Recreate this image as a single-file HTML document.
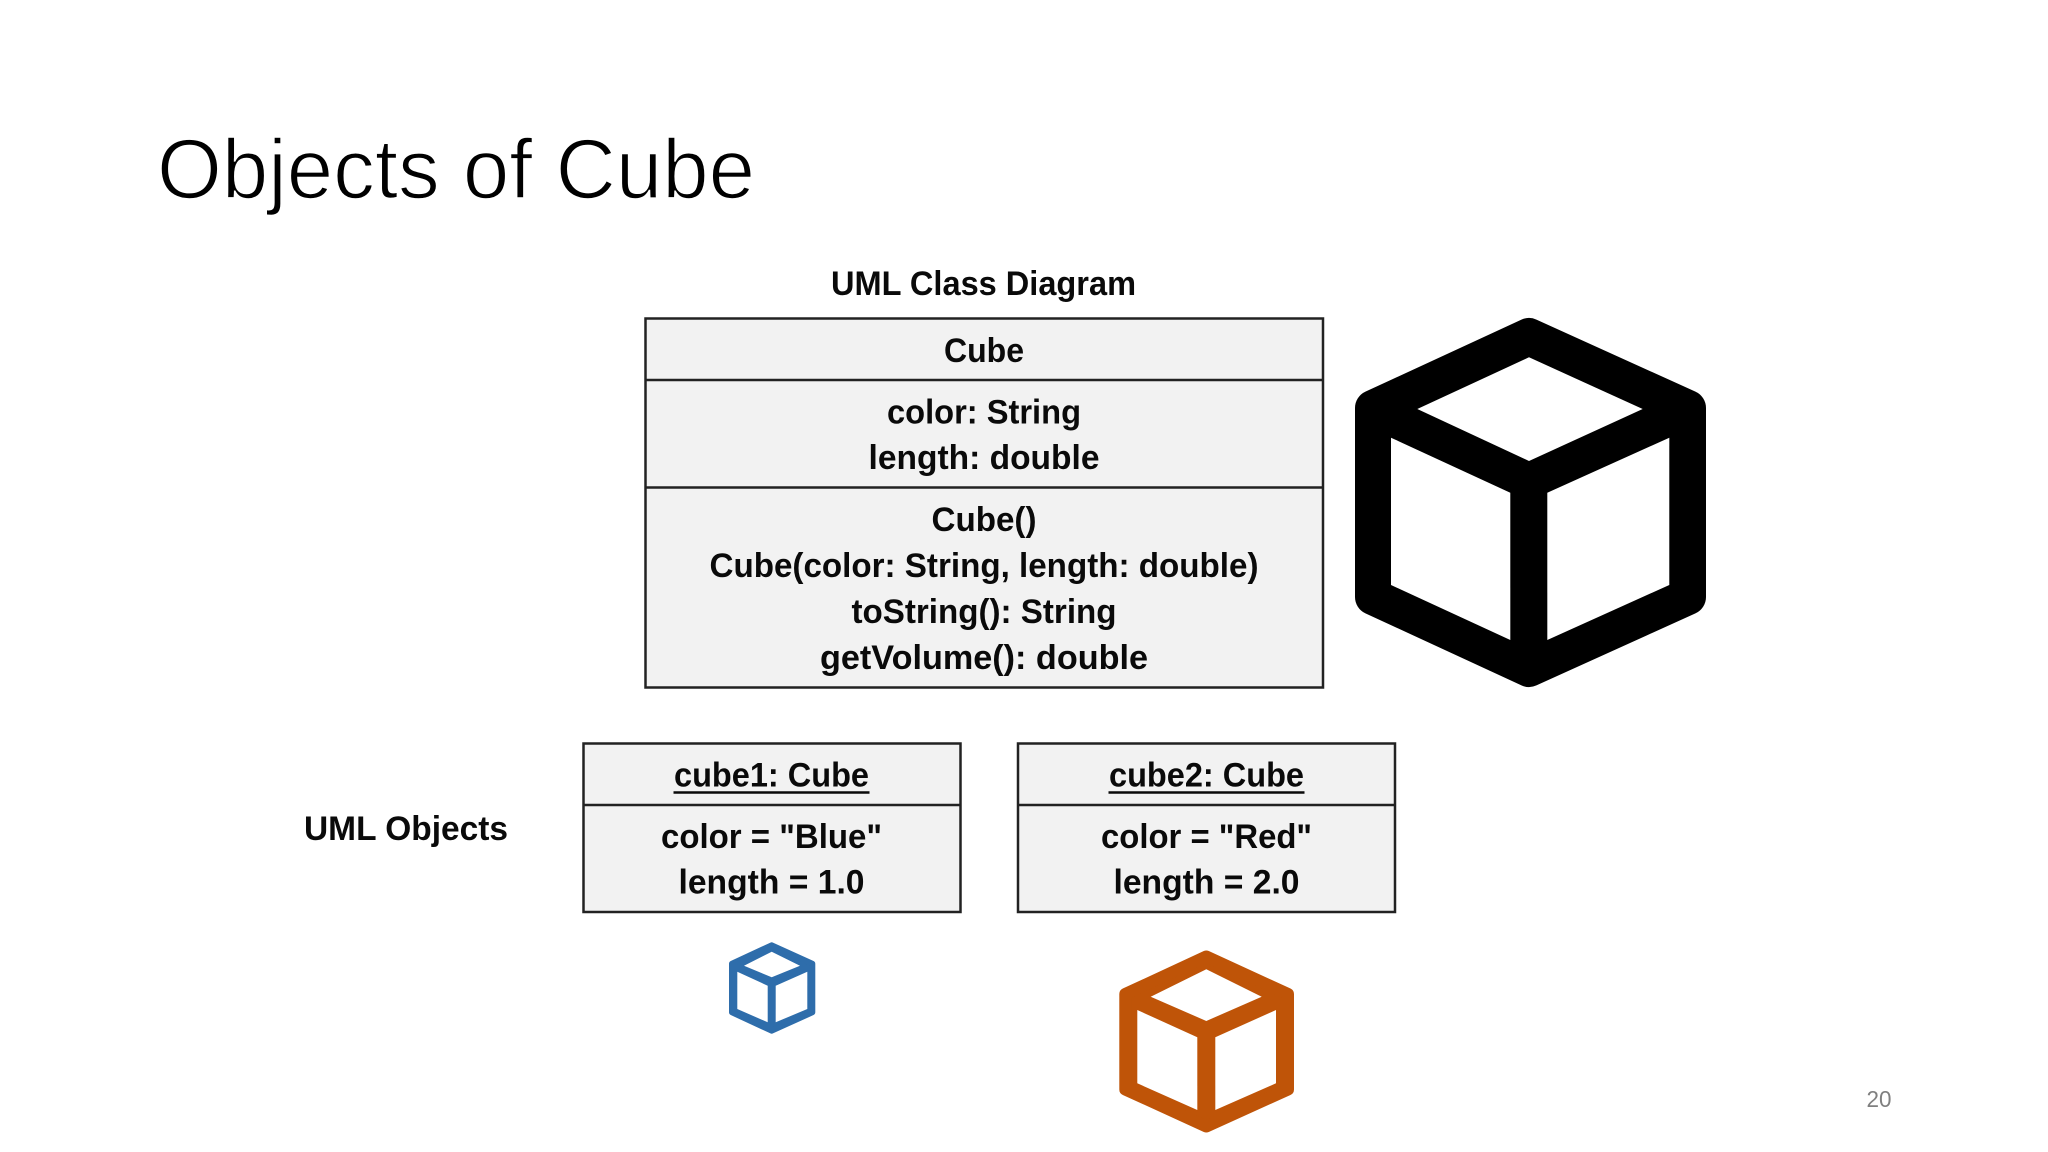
<!DOCTYPE html>
<html lang="en">
<head>
<meta charset="utf-8">
<title>Objects of Cube</title>
<style>
html,body{margin:0;padding:0;background:#fff;width:2048px;height:1152px;overflow:hidden}
svg{display:block}
text{font-family:"Liberation Sans",sans-serif}
.b{font-weight:700;font-size:34px;fill:#0a0a0a;text-anchor:middle}
</style>
</head>
<body>
<svg width="2048" height="1152" viewBox="0 0 2048 1152" xmlns="http://www.w3.org/2000/svg">
<rect width="2048" height="1152" fill="#fff"/>

<text x="157" y="198" font-size="84" fill="#000" stroke="#fff" stroke-width="1.6" textLength="598" lengthAdjust="spacingAndGlyphs">Objects of Cube</text>

<text class="b" x="983.500" y="295" textLength="305" lengthAdjust="spacingAndGlyphs">UML Class Diagram</text>

<g fill="#f2f2f2" stroke="#222" stroke-width="2.5">
<rect x="645.500" y="318.500" width="677.500" height="369"/>
<rect x="583.500" y="743.500" width="377" height="168.500"/>
<rect x="1018" y="743.500" width="377" height="168.500"/>
</g>
<g stroke="#222" stroke-width="2.5">
<line x1="645.500" y1="380" x2="1323" y2="380"/>
<line x1="645.500" y1="487.500" x2="1323" y2="487.500"/>
<line x1="583.500" y1="805" x2="960.500" y2="805"/>
<line x1="1018" y1="805" x2="1395" y2="805"/>
</g>

<text class="b" x="984" y="362" textLength="80" lengthAdjust="spacingAndGlyphs">Cube</text>
<text class="b" x="984" y="423.500" textLength="194" lengthAdjust="spacingAndGlyphs">color: String</text>
<text class="b" x="984" y="469" textLength="231" lengthAdjust="spacingAndGlyphs">length: double</text>
<text class="b" x="984" y="531" textLength="105" lengthAdjust="spacingAndGlyphs">Cube()</text>
<text class="b" x="984" y="577" textLength="549" lengthAdjust="spacingAndGlyphs">Cube(color: String, length: double)</text>
<text class="b" x="984" y="623" textLength="265" lengthAdjust="spacingAndGlyphs">toString(): String</text>
<text class="b" x="984" y="669" textLength="328" lengthAdjust="spacingAndGlyphs">getVolume(): double</text>

<text class="b" x="406" y="840" textLength="204" lengthAdjust="spacingAndGlyphs">UML Objects</text>

<text class="b" x="771.500" y="786.500" textLength="195" lengthAdjust="spacingAndGlyphs">cube1: Cube</text>
<line x1="673.500" y1="792.500" x2="869.500" y2="792.500" stroke="#0a0a0a" stroke-width="2.5"/>
<text class="b" x="771.500" y="848" textLength="221" lengthAdjust="spacingAndGlyphs">color = "Blue"</text>
<text class="b" x="771.500" y="893.500" textLength="186" lengthAdjust="spacingAndGlyphs">length = 1.0</text>

<text class="b" x="1206.500" y="786.500" textLength="195" lengthAdjust="spacingAndGlyphs">cube2: Cube</text>
<line x1="1108.500" y1="792.500" x2="1304.500" y2="792.500" stroke="#0a0a0a" stroke-width="2.5"/>
<text class="b" x="1206.500" y="848" textLength="211" lengthAdjust="spacingAndGlyphs">color = "Red"</text>
<text class="b" x="1206.500" y="893.500" textLength="186" lengthAdjust="spacingAndGlyphs">length = 2.0</text>

<!-- big black cube -->
<polygon points="1529,336 1688,408 1688,597 1529,669 1373,597 1373,408" fill="#000" stroke="#000" stroke-width="36" stroke-linejoin="round"/>
<g fill="#fff">
<polygon points="1529,357.300 1642.700,409 1529,461 1417.300,409"/>
<polygon points="1391,437.700 1510.300,492.700 1510.300,640 1391,585"/>
<polygon points="1547.300,492.700 1669.300,437.700 1669.300,585 1547.300,640"/>
</g>

<!-- blue cube -->
<polygon points="771.700,945.300 812.300,963.700 812.300,1012.300 771.700,1030.700 732,1012.300 732,963.700" fill="#2e6dab" stroke="#2e6dab" stroke-width="6" stroke-linejoin="round"/>
<g fill="#fff">
<polygon points="771.700,951.700 800,965.700 771.700,977.300 744,965.700"/>
<polygon points="737.300,971.700 767.700,985.700 767.700,1022.300 737.300,1009"/>
<polygon points="775.700,985.700 807.300,971.700 807.300,1009 775.700,1022.300"/>
</g>

<!-- orange cube -->
<polygon points="1206.300,956.500 1288,994 1288,1089.500 1206.300,1126.500 1125.300,1089.500 1125.300,994" fill="#bf5408" stroke="#bf5408" stroke-width="12" stroke-linejoin="round"/>
<g fill="#fff">
<polygon points="1206.300,969.300 1261.700,996.700 1206.300,1021 1150.700,996.700"/>
<polygon points="1137.300,1010 1197.300,1037.300 1197.300,1110 1137.300,1083.300"/>
<polygon points="1215.300,1037.300 1276,1010 1276,1083.300 1215.300,1110"/>
</g>

<text x="1879" y="1107" font-size="23.5" fill="#808080" text-anchor="middle" textLength="25" lengthAdjust="spacingAndGlyphs">20</text>
</svg>
</body>
</html>
